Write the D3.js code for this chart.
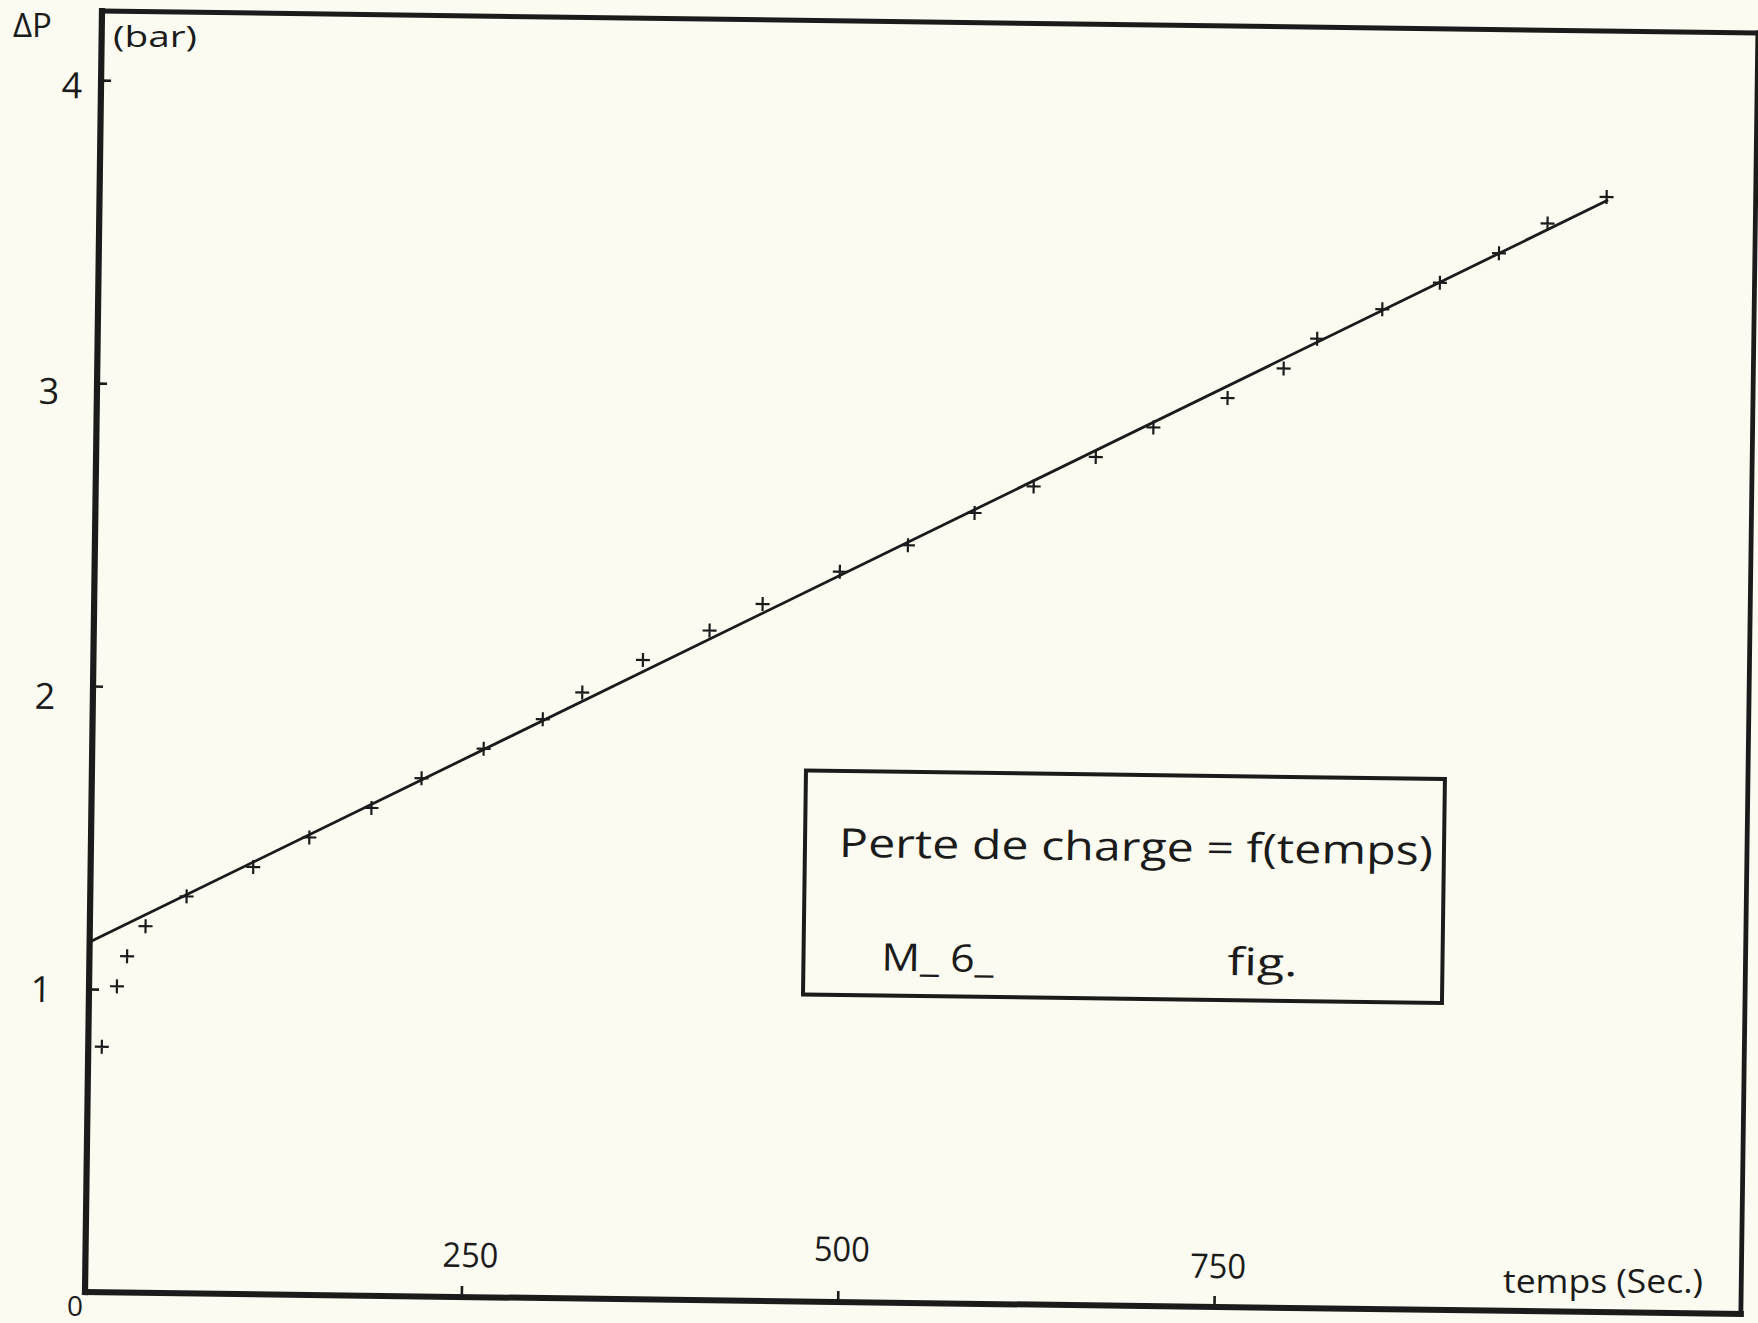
<!DOCTYPE html>
<html>
<head>
<meta charset="utf-8">
<script src="https://cdn.jsdelivr.net/npm/d3@7"></script>
<style>
  html, body { margin: 0; padding: 0; background: #fcfbf1; }
  svg { display: block; }
  text { font-family: "Open Sans", "DejaVu Sans", sans-serif; font-weight: 400; }
</style>
</head>
<body>
<svg id="chart" width="1758" height="1323"></svg>
<script>
// ---- data ----
const temps  = [9, 18.5, 25, 37, 64, 108, 145, 186, 219, 260, 299, 325, 365, 409, 444,
                495, 540, 584, 623, 664, 702, 751, 788, 810, 853, 891, 930, 962, 1001];
const pertes = [0.81, 1.01, 1.11, 1.21, 1.31, 1.41, 1.51, 1.61, 1.71, 1.81, 1.91, 2.00, 2.11, 2.21, 2.30,
                2.41, 2.50, 2.61, 2.70, 2.80, 2.90, 3.00, 3.10, 3.20, 3.30, 3.39, 3.49, 3.59, 3.68];
const fitTemps  = [0, 1002];
const fitPertes = [1.155, 3.67];
const xTicks = [250, 500, 750];
const yTicks = [1, 2, 3, 4];
const xMax = 1100, yMax = 4.228;

// ---- drawing ----
const W = 1758, H = 1323;
const ink = "#1b1b1b";
const svg = d3.select("#chart");
svg.append("rect").attr("width", W).attr("height", H).attr("fill", "#fcfbf1");

const x = d3.scaleLinear().domain([0, xMax]).range([85, 1741]);
const y = d3.scaleLinear().domain([0, 4]).range([1292, 80]);

// the scanned sheet is slightly tilted
const g = svg.append("g").attr("transform", `rotate(0.76,${x(0)},${y(0)})`);

// frame
const frameTop = y(yMax);
const frame = [
  [x(0), y(0), x(0), frameTop, 6.2],
  [x(0), y(0), x(xMax), y(0), 6],
  [x(0), frameTop, x(xMax), frameTop, 5],
  [x(xMax), frameTop, x(xMax), y(0), 4.8]
];
g.selectAll("line.frame").data(frame).join("line")
  .attr("class", "frame")
  .attr("x1", d => d[0]).attr("y1", d => d[1]).attr("x2", d => d[2]).attr("y2", d => d[3])
  .attr("stroke", ink).attr("stroke-width", d => d[4]).attr("stroke-linecap", "square");

// x axis ticks (pointing inward, labels above)
const xNudge = {250: [8, -30], 500: [3, -41], 750: [3, -29]};
const gx = g.append("g").attr("transform", `translate(0,${y(0)})`)
  .call(d3.axisBottom(x).tickValues(xTicks).tickSize(-11).tickFormat(d => d));
gx.attr("font-size", null).attr("font-family", null);
gx.select(".domain").remove();
gx.selectAll(".tick line").attr("stroke", ink).attr("stroke-width", 2.6);
gx.selectAll(".tick text")
  .attr("y", d => xNudge[d][1]).attr("dy", 0).attr("dx", d => xNudge[d][0])
  .attr("textLength", 56).attr("lengthAdjust", "spacingAndGlyphs")
  .attr("fill", ink).style("font-size", "34px");

// y axis ticks
const yNudge = {1: [-48, 0], 2: [-48, 10], 3: [-48, 8], 4: [-29, 5]};
const gy = g.append("g").attr("transform", `translate(${x(0)},0)`)
  .call(d3.axisLeft(y).tickValues(yTicks).tickSize(-10).tickFormat(d => d));
gy.attr("font-size", null).attr("font-family", null);
gy.select(".domain").remove();
gy.selectAll(".tick line").attr("stroke", ink).attr("stroke-width", 2.6);
gy.selectAll(".tick text")
  .attr("x", d => yNudge[d][0]).attr("text-anchor", "middle")
  .attr("dy", d => (13 + yNudge[d][1]) + "px")
  .attr("fill", ink).style("font-size", "36px");

// fitted line
g.append("path")
  .datum(d3.zip(fitTemps, fitPertes))
  .attr("d", d3.line().x(d => x(d[0])).y(d => y(d[1])))
  .attr("fill", "none").attr("stroke", ink).attr("stroke-width", 2.8);

// measured points (+)
g.selectAll("path.pt").data(d3.zip(temps, pertes)).join("path")
  .attr("class", "pt")
  .attr("d", d => `M${x(d[0]) - 7},${y(d[1])}h14M${x(d[0])},${y(d[1]) - 7}v14`)
  .attr("stroke", ink).attr("stroke-width", 2.2).attr("fill", "none");

// legend box
const lg = g.append("g");
lg.append("rect").attr("x", 799).attr("y", 761).attr("width", 639).attr("height", 224)
  .attr("fill", "none").attr("stroke", ink).attr("stroke-width", 4);
lg.append("text").attr("x", 833).attr("y", 847)
  .attr("textLength", 594).attr("lengthAdjust", "spacingAndGlyphs")
  .attr("fill", ink).style("font-size", "40px").text("Perte de charge = f(temps)");
lg.append("text").attr("x", 877).attr("y", 960)
  .attr("textLength", 112).attr("lengthAdjust", "spacingAndGlyphs")
  .attr("fill", ink).style("font-size", "38px").text("M_ 6_");
lg.append("text").attr("x", 1223).attr("y", 960)
  .attr("textLength", 70).attr("lengthAdjust", "spacingAndGlyphs")
  .attr("fill", ink).style("font-size", "38px").text("fig.");

// axis titles
svg.append("text").attr("x", 13).attr("y", 37)
  .attr("fill", ink).style("font-size", "33px").text("ΔP");
svg.append("text").attr("x", 113).attr("y", 47)
  .attr("textLength", 84).attr("lengthAdjust", "spacingAndGlyphs")
  .attr("fill", ink).style("font-size", "29px").text("(bar)");
svg.append("text").attr("x", 75).attr("y", 1316).attr("text-anchor", "middle")
  .attr("fill", ink).style("font-size", "28px").text("0");
svg.append("text").attr("x", 1503).attr("y", 1293)
  .attr("textLength", 200).attr("lengthAdjust", "spacingAndGlyphs")
  .attr("fill", ink).style("font-size", "33px").text("temps (Sec.)");
</script>
</body>
</html>
